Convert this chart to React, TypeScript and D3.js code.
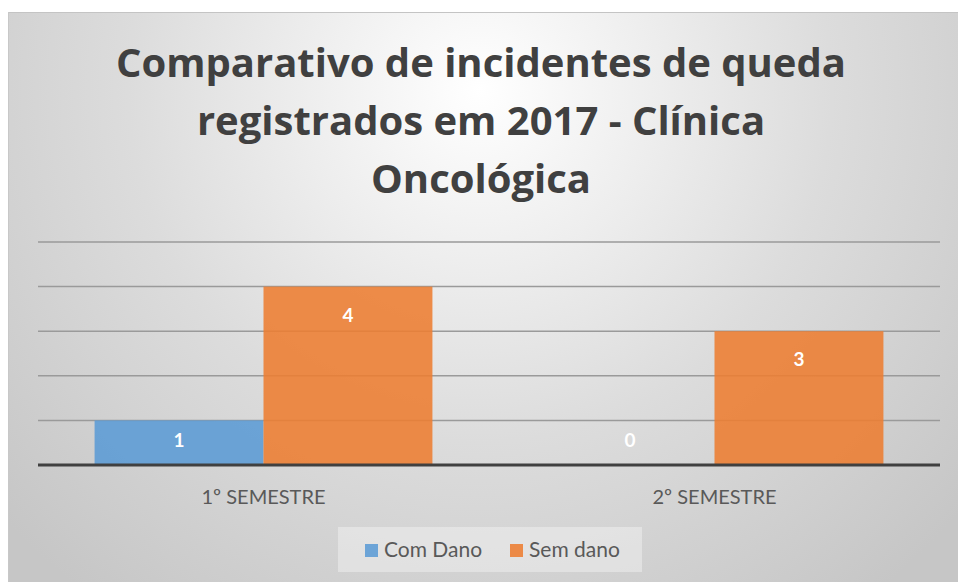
import React from 'react';
import * as d3 from 'd3';

const categories = ['1º SEMESTRE', '2º SEMESTRE'];
const seriesNames = ['Com Dano', 'Sem dano'];
const comDano = [1, 0];
const semDano = [4, 3];
const titleLines = ['Comparativo de incidentes de queda', 'registrados em 2017 - Clínica', 'Oncológica'];

const colors = ['#5B9BD5', '#ED7D31'];
const font = 'Lato, Calibri, sans-serif';
const titleFont = '"Open Sans", Lato, sans-serif';

export default function App() {
  const width = 958;
  const height = 582;

  const x = d3.scaleBand<string>().domain(categories).range([38, 940]);
  const xSub = d3
    .scaleBand<string>()
    .domain(seriesNames)
    .range([0, x.bandwidth()])
    .paddingInner(0)
    .paddingOuter(0.335);
  const y = d3.scaleLinear().domain([0, 5]).range([465, 242]);

  const values = [comDano, semDano];
  const bars = categories.flatMap((c, i) =>
    seriesNames.map((s, j) => ({ cat: c, series: s, value: values[j][i], color: colors[j] }))
  );

  return (
    <svg
      width={width}
      height={height}
      style={{ position: 'absolute', left: 0, top: 0, display: 'block' }}
    >
      <defs>
        <radialGradient id="bg" gradientUnits="userSpaceOnUse" cx={480} cy={90} r={640}>
          <stop offset="0" stopColor="#ffffff" />
          <stop offset="0.55" stopColor="#dcdcdc" />
          <stop offset="1" stopColor="#c6c6c6" />
        </radialGradient>
      </defs>
      <rect x={8} y={12} width={width - 8} height={height - 12} fill="url(#bg)" />
      <line x1={8} x2={width} y1={12.5} y2={12.5} stroke="#c4c4c4" strokeWidth={1} />
      <line x1={8.5} x2={8.5} y1={12} y2={height} stroke="#c8c8c8" strokeWidth={1} />

      {/* title */}
      {titleLines.map((t, i) => (
        <text
          key={i}
          x={481}
          y={77 + i * 58}
          textAnchor="middle"
          fontFamily={titleFont}
          fontWeight="bold"
          fontSize={40}
          fill="#404040"
        >
          {t}
        </text>
      ))}

      {/* gridlines */}
      {y.ticks(5).filter(t => t > 0).map(t => (
        <line key={t} x1={38} x2={940} y1={y(t)} y2={y(t)} stroke="#9a9a9a" strokeWidth={1.5} />
      ))}

      {/* bars */}
      {bars.map((b, i) => (
        <rect
          key={i}
          x={(x(b.cat) as number) + (xSub(b.series) as number)}
          y={y(b.value)}
          width={xSub.bandwidth()}
          height={y(0) - y(b.value)}
          fill={b.color}
          fillOpacity={0.88}
        />
      ))}

      {/* baseline */}
      <line x1={38} x2={940} y1={y(0)} y2={y(0)} stroke="#404040" strokeWidth={3} />

      {/* data labels */}
      {bars.map((b, i) => (
        <text
          key={'l' + i}
          x={(x(b.cat) as number) + (xSub(b.series) as number) + xSub.bandwidth() / 2}
          y={Math.min(y(b.value) + 35, y(0) - 18)}
          textAnchor="middle"
          fontFamily={font}
          fontWeight="bold"
          fontSize={19}
          fill="#ffffff"
        >
          {b.value}
        </text>
      ))}

      {/* category labels */}
      {categories.map(c => (
        <text
          key={c}
          x={(x(c) as number) + x.bandwidth() / 2}
          y={504}
          textAnchor="middle"
          fontFamily={font}
          fontSize={20}
          fill="#595959"
        >
          {c}
        </text>
      ))}

      {/* legend */}
      <rect x={338} y={527} width={304} height={45} fill="#ffffff" fillOpacity={0.35} />
      {seriesNames.map((s, i) => {
        const lx = i === 0 ? 365 : 510;
        return (
          <g key={s}>
            <rect x={lx} y={544} width={13} height={13} fill={colors[i]} fillOpacity={0.88} />
            <text x={lx + 19} y={557} fontFamily={font} fontSize={21} fill="#595959">
              {s}
            </text>
          </g>
        );
      })}
    </svg>
  );
}
